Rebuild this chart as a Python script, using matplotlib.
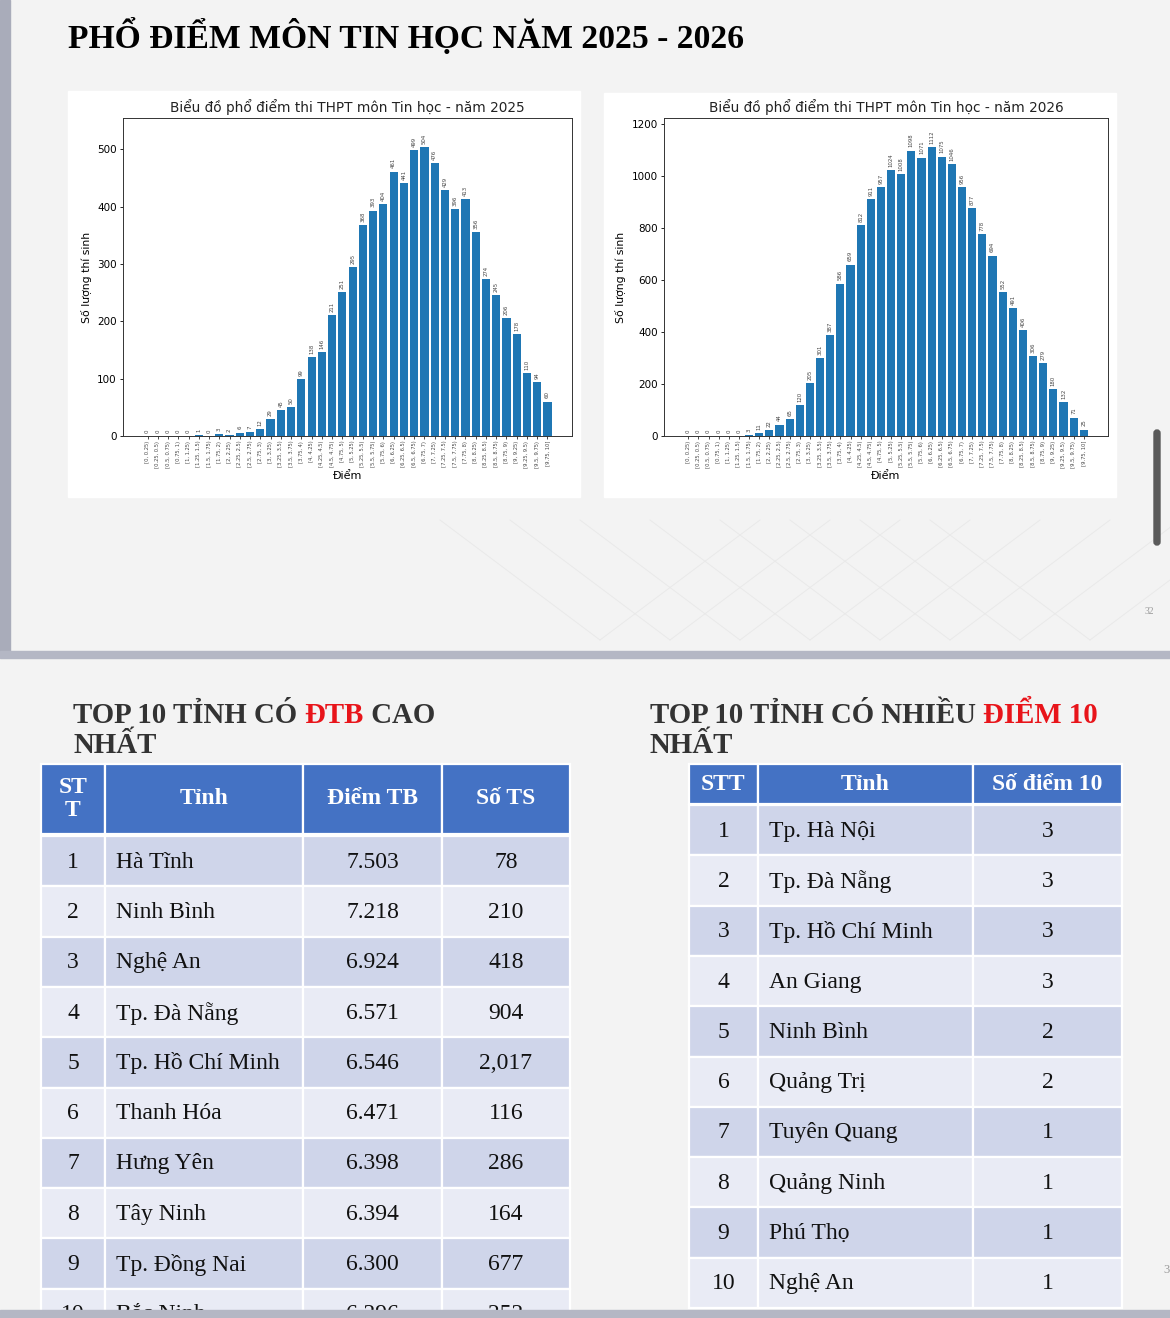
import numpy as np
import matplotlib.pyplot as plt
from matplotlib.patches import Rectangle, FancyBboxPatch

W, H = 1170, 1318

# ---- data ----
bin_labels = ['[0, 0.25)', '[0.25, 0.5)', '[0.5, 0.75)', '[0.75, 1)', '[1, 1.25)',
              '[1.25, 1.5)', '[1.5, 1.75)', '[1.75, 2)', '[2, 2.25)', '[2.25, 2.5)',
              '[2.5, 2.75)', '[2.75, 3)', '[3, 3.25)', '[3.25, 3.5)', '[3.5, 3.75)',
              '[3.75, 4)', '[4, 4.25)', '[4.25, 4.5)', '[4.5, 4.75)', '[4.75, 5)',
              '[5, 5.25)', '[5.25, 5.5)', '[5.5, 5.75)', '[5.75, 6)', '[6, 6.25)',
              '[6.25, 6.5)', '[6.5, 6.75)', '[6.75, 7)', '[7, 7.25)', '[7.25, 7.5)',
              '[7.5, 7.75)', '[7.75, 8)', '[8, 8.25)', '[8.25, 8.5)', '[8.5, 8.75)',
              '[8.75, 9)', '[9, 9.25)', '[9.25, 9.5)', '[9.5, 9.75)', '[9.75, 10]']

counts_2025 = [0, 0, 0, 0, 0, 1, 0, 3, 2, 6, 7, 12, 29, 45, 50, 99, 138, 146, 211, 251,
               295, 368, 393, 404, 461, 441, 499, 504, 476, 429, 396, 413, 356, 274, 245, 206,
               178, 110, 94, 60]
counts_2026 = [0, 0, 0, 0, 0, 0, 3, 11, 22, 44, 65, 120, 205, 301, 387, 586, 659, 812, 911, 957,
               1024, 1008, 1098, 1071, 1112, 1075, 1046, 956, 877, 778, 694, 552, 491, 406, 306, 279,
               180, 132, 71, 25]

avg_headers = ['ST\nT', 'Tỉnh', 'Điểm TB', 'Số TS']
avg_provinces = ['Hà Tĩnh', 'Ninh Bình', 'Nghệ An', 'Tp. Đà Nẵng', 'Tp. Hồ Chí Minh',
                 'Thanh Hóa', 'Hưng Yên', 'Tây Ninh', 'Tp. Đồng Nai', 'Bắc Ninh']
avg_scores = ['7.503', '7.218', '6.924', '6.571', '6.546', '6.471', '6.398', '6.394', '6.300', '6.296']
avg_candidates = ['78', '210', '418', '904', '2,017', '116', '286', '164', '677', '252']

ten_headers = ['STT', 'Tỉnh', 'Số điểm 10']
ten_provinces = ['Tp. Hà Nội', 'Tp. Đà Nẵng', 'Tp. Hồ Chí Minh', 'An Giang', 'Ninh Bình',
                 'Quảng Trị', 'Tuyên Quang', 'Quảng Ninh', 'Phú Thọ', 'Nghệ An']
ten_counts = [3, 3, 3, 3, 2, 2, 1, 1, 1, 1]

SERIF = 'Liberation Serif'
BLUE = '#4472c4'
BAND1 = '#cfd5ea'
BAND2 = '#e9ebf5'


def px_rect(x0, y0, x1, y1):
    return [x0 / W, 1 - y1 / H, (x1 - x0) / W, (y1 - y0) / H]


fig = plt.figure(figsize=(W / 100, H / 100), dpi=100)
bg = fig.add_axes([0, 0, 1, 1])
bg.set_xlim(0, W)
bg.set_ylim(H, 0)
bg.axis('off')

# slide backgrounds and separators
bg.add_patch(Rectangle((0, 0), W, H, color='#f3f3f3', zorder=0))
bg.add_patch(Rectangle((0, 0), 10, 651, color='#a9acba', zorder=1))
bg.add_patch(Rectangle((0, 651), W, 7, color='#b4b7c4', zorder=1))
bg.add_patch(Rectangle((0, 1310), W, 8, color='#b4b7c4', zorder=10))
bg.add_patch(FancyBboxPatch((1154, 430), 6, 115, boxstyle='round,pad=0,rounding_size=3',
                            color='#5a5a5a', zorder=2))
bg.text(1149, 612, '32', fontsize=7, color='#9a9a9a', ha='center', va='center', family=SERIF)
bg.text(1163, 1270, '3', fontsize=9, color='#9a9a9a', ha='left', va='center', family=SERIF)

# faint decorative lines on first slide
for k in range(8):
    bg.plot([600 + k * 70, 760 + k * 70], [640, 520], color='#e9e9e9', lw=0.7, zorder=1)
    bg.plot([600 + k * 70, 440 + k * 70], [640, 520], color='#e9e9e9', lw=0.7, zorder=1)

bg.text(68, 37, 'PHỔ ĐIỂM MÔN TIN HỌC NĂM 2025 - 2026', family=SERIF, weight='bold',
        fontsize=24.2, ha='left', va='center', color='black', zorder=3)

# chart cards
bg.add_patch(Rectangle((68, 91), 512, 406, color='white', zorder=2))
bg.add_patch(Rectangle((604, 93), 512, 404, color='white', zorder=2))


def draw_hist(rect, title, values):
    ax = fig.add_axes(px_rect(*rect))
    xs = np.arange(len(values))
    ax.bar(xs, values, width=0.8, color='#1f77b4')
    top = max(values) * 1.1
    ax.set_ylim(0, top)
    for x, v in zip(xs, values):
        ax.text(x, v + top * 0.01, str(v), rotation=90, ha='center', va='bottom',
                fontsize=3.9, color='#444444')
    ax.set_xticks(xs)
    ax.set_xticklabels(bin_labels, rotation=90, fontsize=3.7, color='#444444')
    ax.tick_params(axis='y', labelsize=7.5, length=2.5, width=0.6, pad=2)
    ax.tick_params(axis='x', length=2, width=0.5, pad=1.5)
    ax.set_title(title, fontsize=9.8, pad=4, color='#222222')
    ax.set_xlabel('Điểm', fontsize=8, labelpad=2)
    ax.set_ylabel('Số lượng thí sinh', fontsize=7.8, labelpad=4)
    for s in ax.spines.values():
        s.set_linewidth(0.7)
        s.set_color('#333333')
    return ax


draw_hist((123, 118, 572, 436), 'Biểu đồ phổ điểm thi THPT môn Tin học - năm 2025', counts_2025)
draw_hist((664, 118, 1108, 436), 'Biểu đồ phổ điểm thi THPT môn Tin học - năm 2026', counts_2026)


def multicolor_line(x, y, parts, size):
    prev = None
    for txt, col in parts:
        if prev is None:
            prev = bg.text(x, y, txt, family=SERIF, weight='bold', fontsize=size,
                           color=col, ha='left', va='baseline', zorder=3)
        else:
            prev = bg.annotate(txt, xy=(1, 0), xycoords=prev, family=SERIF, weight='bold',
                               fontsize=size, color=col, ha='left', va='bottom', zorder=3)


TITLE_C = '#333333'
RED = '#e8141a'
multicolor_line(73, 723, [('TOP 10 TỈNH CÓ ', TITLE_C), ('ĐTB', RED), (' CAO', TITLE_C)], 20.8)
bg.text(73, 753, 'NHẤT', family=SERIF, weight='bold', fontsize=20.8, color=TITLE_C,
        ha='left', va='baseline', zorder=3)
multicolor_line(650, 723, [('TOP 10 TỈNH CÓ NHIỀU ', TITLE_C), ('ĐIỂM 10', RED)], 20.8)
bg.text(650, 753, 'NHẤT', family=SERIF, weight='bold', fontsize=20.8, color=TITLE_C,
        ha='left', va='baseline', zorder=3)


def cell(x0, x1, y0, y1, color):
    bg.add_patch(Rectangle((x0, y0), x1 - x0, y1 - y0, facecolor=color, edgecolor='white',
                           lw=1.6, zorder=2))


def draw_table(col_edges, head_y, row_y0, row_h, headers, columns, aligns):
    for j, hdr in enumerate(headers):
        x0, x1 = col_edges[j], col_edges[j + 1]
        cell(x0, x1, head_y[0], head_y[1], BLUE)
        bg.text((x0 + x1) / 2, (head_y[0] + head_y[1]) / 2, hdr, family=SERIF, weight='bold',
                fontsize=17, color='white', ha='center', va='center', zorder=3,
                linespacing=1.1)
    for i in range(len(columns[0])):
        y0 = row_y0 + i * row_h
        band = BAND1 if i % 2 == 0 else BAND2
        for j, col in enumerate(columns):
            x0, x1 = col_edges[j], col_edges[j + 1]
            cell(x0, x1, y0, y0 + row_h, band)
            if aligns[j] == 'left':
                tx, ha = x0 + 11, 'left'
            else:
                tx, ha = (x0 + x1) / 2, 'center'
            bg.text(tx, y0 + row_h / 2 + 1, str(col[i]), family=SERIF, fontsize=17,
                    color='#111111', ha=ha, va='center', zorder=3)


draw_table([41, 105, 303, 442, 570], (764, 834), 836, 50.3, avg_headers,
           [list(range(1, 11)), avg_provinces, avg_scores, avg_candidates],
           ['center', 'left', 'center', 'center'])
draw_table([689, 758, 973, 1122], (764, 804), 805, 50.3, ten_headers,
           [list(range(1, 11)), ten_provinces, ten_counts],
           ['center', 'left', 'center'])

fig.savefig('out.png', dpi=100)
